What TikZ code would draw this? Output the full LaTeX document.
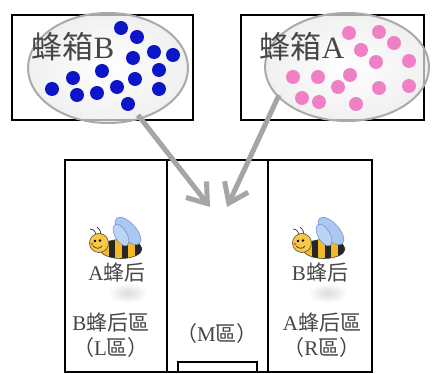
\documentclass[tikz,border=0pt]{standalone}
\usepackage{fontspec}
\setmainfont{Liberation Serif}
\newfontfamily\cjk{Noto Sans CJK TC}
\usetikzlibrary{arrows.meta,shapes.geometric}
\newcommand\zh[1]{{\cjk #1}}

\definecolor{dotblue}{RGB}{12,22,200}
\definecolor{dotpink}{RGB}{240,128,198}
\definecolor{inkgray}{RGB}{70,70,70}
\definecolor{handlegray}{RGB}{165,165,165}
\definecolor{rimgray}{RGB}{170,170,170}
\definecolor{beeyellow}{RGB}{245,185,40}
\definecolor{beehead}{RGB}{250,200,70}
\definecolor{wingblue}{RGB}{170,200,242}
\definecolor{wingedge}{RGB}{120,150,200}

\tikzset{
  frame/.style={draw=black, line width=2.8pt, inner sep=0pt},
  lens/.style={ellipse, draw=rimgray, line width=2pt,
    inner color=white, outer color=black!8, fill opacity=0.7, inner sep=0pt},
  handle/.style={draw=handlegray, line width=5pt,
    -{Straight Barb[length=18pt,width=26pt,line cap=butt]}},
  lbl/.style={text=inkgray, inner sep=0pt, align=center},
  big/.style={font=\fontsize{31}{33}\selectfont},
  small/.style={font=\fontsize{21}{25}\selectfont},
  bdot/.style={fill=dotblue},
  pdot/.style={fill=dotpink},
  bee/.pic={
    % striped body
    \begin{scope}
      \clip (22,6) ellipse [x radius=21, y radius=9.5];
      \fill[beeyellow] (-2,-6) rectangle (46,18);
      \fill[black!85] (10,-6) rectangle (16,18);
      \fill[black!85] (23,-6) rectangle (29,18);
      \fill[black!85] (36,-6) rectangle (46,18);
    \end{scope}
    \draw[black!75, line width=0.6pt] (22,6) ellipse [x radius=21, y radius=9.5];
    % wings
    \draw[wingedge, fill=wingblue, line width=0.6pt, rotate around={-48:(29,-12)}]
      (29,-12) ellipse [x radius=17, y radius=8];
    \draw[wingedge, fill=wingblue!80!white, line width=0.6pt, rotate around={-60:(22,-8)}]
      (22,-8) ellipse [x radius=12, y radius=6];
    % head
    \draw[black!70, fill=beehead, line width=0.6pt] (0,0) circle [radius=9.5];
    \fill[black] (-4,-2) circle [radius=1.3];
    \fill[black] (1,-2.5) circle [radius=1.3];
    \draw[black!80, line width=0.7pt] (-6,3) .. controls (-3,6) and (1,6) .. (3,3);
    \fill[orange!80!red] (-7,1) circle [radius=1.6];
    % antennae
    \draw[black!80, line width=0.7pt] (-3,-9) .. controls (-5,-13) .. (-9,-14);
    \draw[black!80, line width=0.7pt] (2,-9) .. controls (1,-13) .. (-2,-16);
  }
}

\begin{document}
\begin{tikzpicture}[x=1pt, y=-1pt]
\useasboundingbox (0,0) rectangle (432,374);
\fill[white] (0,0) rectangle (432,374);

% hive boxes
\node[frame, minimum width=181pt, minimum height=105pt] (boxB) at (102.5,67.5) {};
\node[frame, minimum width=183pt, minimum height=105pt] (boxA) at (332.5,67.5) {};

% three compartments below
\node[frame, minimum width=102pt, minimum height=212pt] (colL) at (116,266) {};
\node[frame, minimum width=101pt, minimum height=212pt] (colM) at (217.5,266) {};
\node[frame, minimum width=104pt, minimum height=212pt] (colR) at (320,266) {};
\node[frame, minimum width=79pt, minimum height=10pt] (gate) at (217.5,367) {};

% soft shadows beside the queens
\shade[inner color=black!14, outer color=white] (128,293) ellipse [x radius=20, y radius=10];
\shade[inner color=black!14, outer color=white] (328,293) ellipse [x radius=20, y radius=10];

% magnifying lenses
\node[lens, minimum width=160pt, minimum height=110pt] (lensB) at (108,68) {};
\node[lens, minimum width=164pt, minimum height=108pt] (lensA) at (347,67) {};

% blue bees in hive B
\foreach \x/\y in {121/28,137/37,154/52,173/55,133/58,159/70,102/71,73/78,
                   135/79,52/89,77/95,97/93,117/87,159/89,128/104}
  \fill[bdot] (\x,\y) circle [radius=7];

% pink bees in hive A
\foreach \x/\y in {349/33,379/32,394/43,361/50,376/62,409/61,293/77,318/77,
                   350/75,338/87,379/88,409/86,302/98,319/102,356/104}
  \fill[pdot] (\x,\y) circle [radius=7];

% hive labels
\node[lbl, big] (tB) at (73,47) {\zh{蜂箱}B};
\node[lbl, big] (tA) at (302,47) {\zh{蜂箱}A};

% lens handles pointing into the middle compartment
\coordinate (hB) at (138,115);
\coordinate (tipB) at (210,207);
\coordinate (hA) at (279,95);
\coordinate (tipA) at (227,207);
\draw[handle] (hB) -- (tipB);
\draw[handle] (hA) -- (tipA);

% queens
\pic at (99,243) {bee};
\pic at (302,243) {bee};
\node[lbl, small] (qA) at (117,273) {A\zh{蜂后}};
\node[lbl, small] (qB) at (320,273) {B\zh{蜂后}};

% compartment labels
\node[lbl, small] (zL) at (111,335.5) {B\zh{蜂后區}\\\zh{（}L\zh{區）}};
\node[lbl, small] (zM) at (217,334) {\zh{（}M\zh{區）}};
\node[lbl, small] (zR) at (322,335.5) {A\zh{蜂后區}\\\zh{（}R\zh{區）}};
\end{tikzpicture}
\end{document}
